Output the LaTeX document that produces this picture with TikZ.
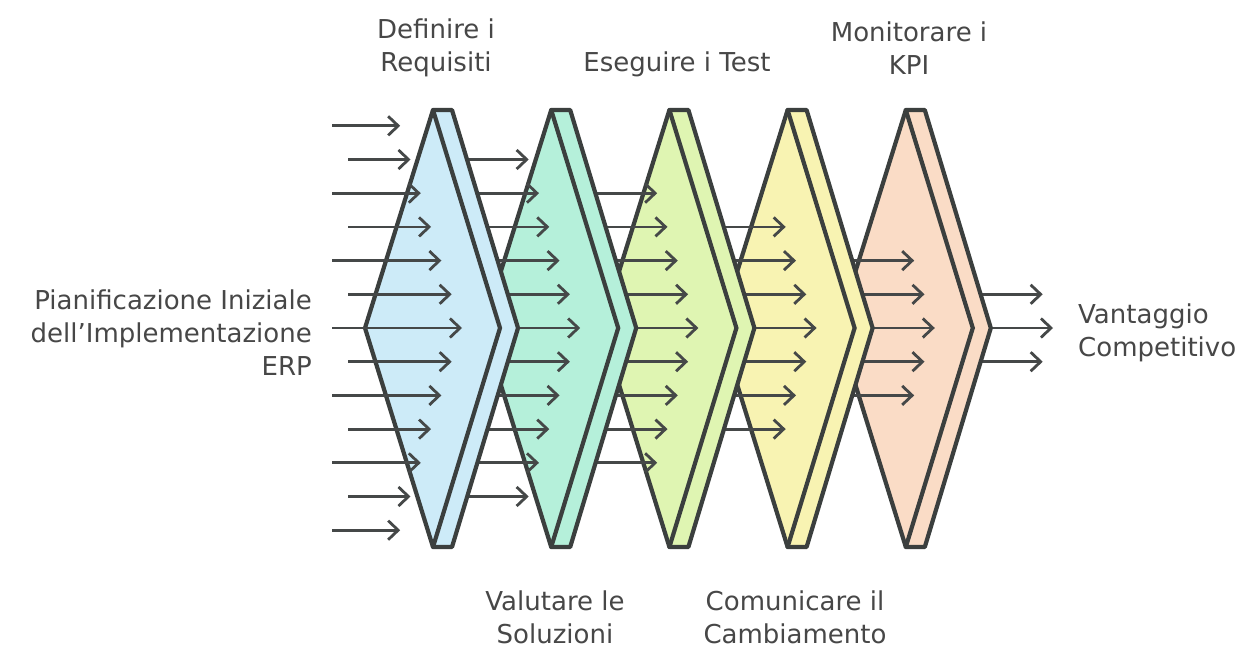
\documentclass[tikz,border=0pt]{standalone}
\usepackage{fontspec}
\setmainfont{DejaVu Sans}
\usetikzlibrary{arrows.meta}
\definecolor{inkline}{HTML}{3B3F3E}
\definecolor{inkarrow}{HTML}{454848}
\definecolor{inktext}{HTML}{474747}
\definecolor{fillA}{HTML}{CDEBF8}
\definecolor{fillB}{HTML}{B5F0DA}
\definecolor{fillC}{HTML}{DFF5B2}
\definecolor{fillD}{HTML}{F8F3B2}
\definecolor{fillE}{HTML}{FADCC6}
\tikzset{
  chevface/.style={draw=inkline, line width=4.2pt, line join=round},
  chevedge/.style={draw=inkline, line width=4.2pt, line cap=round},
  flow/.style={draw=inkarrow, line width=2.8pt, -{Straight Barb[length=10pt,width=19pt,line width=2.8pt]}},
  lbl/.style={text=inktext, font=\fontsize{26}{33}\selectfont, inner sep=0pt}
}
\begin{document}
\begin{tikzpicture}[x=1pt,y=-1pt]
\useasboundingbox (0,0) rectangle (1237,648);
\fill[white] (0,0) rectangle (1237,648);
% geometry: chevron k has its top-left corner at x = 433 + 118.2 k
\def\midy{328}
\def\rowgap{33.7}
% arrows of group g (g = 1..5) leave chevron g-1; drawn before it so it covers their tails
\foreach \k/\col in {4/fillE,3/fillD,2/fillC,1/fillB,0/fillA}{
  \pgfmathsetmacro{\T}{433+118.2*\k}
  \pgfmathtruncatemacro{\g}{\k+1}
  \pgfmathtruncatemacro{\lo}{\g}
  \pgfmathtruncatemacro{\hi}{12-\g}
  \foreach \i in {\lo,...,\hi}{
    \pgfmathsetmacro{\d}{abs(\i-6)}
    \pgfmathsetmacro{\yy}{\midy+\rowgap*(\i-6)}
    \pgfmathsetmacro{\xe}{365+118.2*\g+97-10.3*\d}
    \coordinate (s-\g-\i) at (\T+10,\yy);
    \coordinate (e-\g-\i) at (\xe,\yy);
    \draw[flow] (s-\g-\i) -- (e-\g-\i);
  }
  % chevron outline and its front face
  \coordinate (c\k-l) at (\T-68,\midy);
  \coordinate (c\k-t) at (\T,110);
  \coordinate (c\k-tt) at (\T+19,110);
  \coordinate (c\k-o) at (\T+85,\midy);
  \coordinate (c\k-bb) at (\T+19,547);
  \coordinate (c\k-b) at (\T,547);
  \coordinate (c\k-i) at (\T+67,\midy);
  \path[chevface, fill=\col] (c\k-l) -- (c\k-t) -- (c\k-tt) -- (c\k-o) -- (c\k-bb) -- (c\k-b) -- cycle;
  \draw[chevedge] (c\k-t) -- (c\k-i) -- (c\k-b);
}
% incoming arrows, drawn over the first chevron
\foreach \i in {0,...,12}{
  \pgfmathsetmacro{\d}{abs(\i-6)}
  \pgfmathsetmacro{\yy}{\midy+\rowgap*(\i-6)}
  \pgfmathsetmacro{\xe}{365+97-10.3*\d}
  \pgfmathsetmacro{\xs}{ifthenelse(mod(\i,2)==0,332,348)}
  \coordinate (s-0-\i) at (\xs,\yy);
  \coordinate (e-0-\i) at (\xe,\yy);
  \draw[flow] (s-0-\i) -- (e-0-\i);
}
% labels
\node[lbl, anchor=east, align=right] (start) at (312,333) {Pianificazione Iniziale\\dell’Implementazione\\ERP};
\node[lbl, anchor=west, align=left] (goal) at (1078,333) {Vantaggio\\Competitivo};
\node[lbl, align=center] (l1) at (436,48) {Definire i\\Requisiti};
\node[lbl, align=center] (l2) at (555,617) {Valutare le\\Soluzioni};
\node[lbl, align=center] (l3) at (677,64) {Eseguire i Test};
\node[lbl, align=center] (l4) at (795,617) {Comunicare il\\Cambiamento};
\node[lbl, align=center] (l5) at (909,48) {Monitorare i\\KPI};
\end{tikzpicture}
\end{document}
